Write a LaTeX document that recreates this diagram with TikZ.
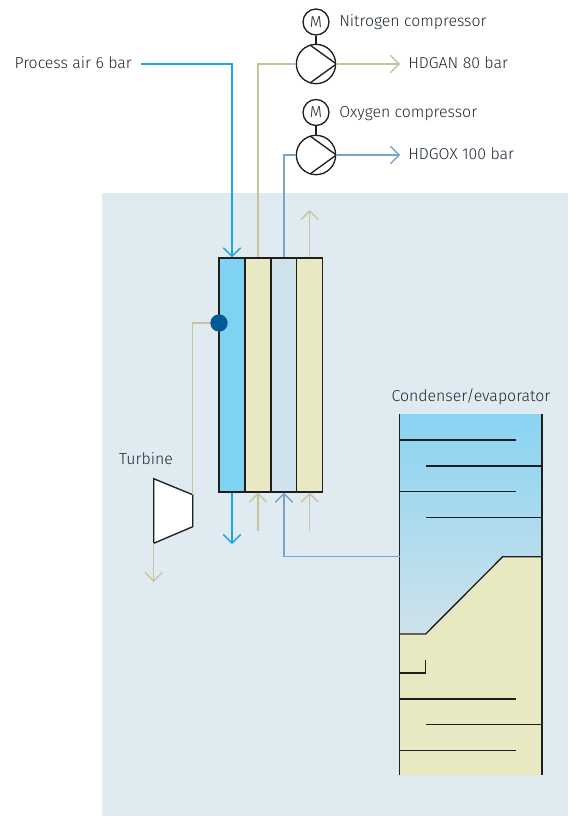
\documentclass[tikz,border=0pt]{standalone}
\usepackage{fontspec}
\setmainfont{Fira Sans Light}
\usepackage{xcolor}
\usetikzlibrary{arrows.meta,positioning,calc}
\definecolor{panelb}{HTML}{E0EAF1}
\definecolor{airb}{HTML}{1AA7E0}
\definecolor{airf}{HTML}{80D2F2}
\definecolor{ganl}{HTML}{C8C39A}
\definecolor{ganf}{HTML}{E8E8C2}
\definecolor{goxl}{HTML}{7BA4CC}
\definecolor{goxf}{HTML}{D0E2EB}
\definecolor{dotb}{HTML}{005A96}
\definecolor{inkk}{HTML}{1E1E1E}
\definecolor{textk}{HTML}{1E2833}
\tikzset{
  lbl/.style={inner sep=0pt, font=\fontsize{11.9}{13}\selectfont, text=textk, text height=8pt, text depth=2.5pt},
  column/.style={draw=inkk, line width=1pt, minimum width=19.5pt, minimum height=175.5pt, inner sep=0pt},
  pumpc/.style={draw=inkk, circle, line width=1pt, fill=white, minimum size=29.5pt, inner sep=0pt},
  motorc/.style={draw=inkk, circle, line width=1pt, minimum size=19.5pt, inner sep=0pt, font=\fontsize{11.9}{13}\selectfont, text=textk},
  flow/.style={line width=1pt, -{Straight Barb[length=6.5pt,width=13pt]}},
  plain/.style={line width=1pt},
  tray/.style={draw=inkk, line width=1pt}
}
\begin{document}
\begin{tikzpicture}[x=0.75pt, y=-0.75pt]
  \useasboundingbox (0,0) rectangle (580,832);
  \fill[panelb] (102,193) rectangle (568,816);
  % exchanger
  \node[column, fill=airf] (colA) at (232,375) {};
  \node[column, fill=ganf] (colB) at (258,375) {};
  \node[column, fill=goxf] (colC) at (284,375) {};
  \node[column, fill=ganf] (colD) at (309.7,375) {};
  \node[circle, fill=dotb, minimum size=13pt, inner sep=0pt] (dot) at (219,323) {};
  % compressors
  \node[motorc] (motorN) at (316,22) {M};
  \node[pumpc] (pumpN) at (316,64) {};
  \node[motorc] (motorO) at (316,112.5) {M};
  \node[pumpc] (pumpO) at (316,155) {};
  \draw[plain, inkk] (motorN) -- (pumpN);
  \draw[plain, inkk] (motorO) -- (pumpO);
  \draw[plain, inkk] (310,45) -- (pumpN.east) -- (310,83);
  \draw[plain, inkk] (310,136) -- (pumpO.east) -- (310,174);
  % labels
  \node[lbl, anchor=west] (tN) at (339,22.5) {Nitrogen compressor};
  \node[lbl, anchor=west] (tO) at (339,113.5) {Oxygen compressor};
  \node[lbl, anchor=east] (tair) at (132,65) {Process air 6 bar};
  \node[lbl, anchor=west] (tgan) at (408,65) {HDGAN 80 bar};
  \node[lbl, anchor=west] (tgox) at (408,155.5) {HDGOX 100 bar};
  \node[lbl] (tturb) at (146,460.5) {Turbine};
  \node[lbl] (tcond) at (471,397.5) {Condenser/evaporator};
  % turbine
  \coordinate (tbin) at (192.7,494.7);
  \coordinate (tbout) at (153.7,543.3);
  \draw[inkk, line width=1pt, fill=white] (153.7,478.7) -- (tbin) -- (192.7,526.7) -- (tbout) -- cycle;
  % condenser
  \shade[top color=airf!90!goxf, bottom color=goxf] (399.5,414) rectangle (542,634);
  \fill[ganf] (399.5,634) -- (425.7,634) -- (502.7,556.7) -- (542,556.7) -- (542,775) -- (399.5,775) -- cycle;
  \draw[tray] (399.5,414) -- (399.5,775);
  \draw[tray] (542,414) -- (542,775);
  \draw[tray] (399.5,440) -- (516,440);
  \draw[tray] (426,466) -- (542,466);
  \draw[tray] (399.5,491.7) -- (516,491.7);
  \draw[tray] (426,517.3) -- (542,517.3);
  \draw[tray] (399.5,634) -- (425.7,634) -- (502.7,556.7) -- (542,556.7);
  \draw[tray] (399.5,673) -- (425.7,673) -- (425.7,660);
  \draw[tray] (399.5,699) -- (516,699);
  \draw[tray] (426,724.7) -- (542,724.7);
  \draw[tray] (399.5,750.3) -- (516,750.3);
  % free ends
  \coordinate (airin) at (141,64);
  \coordinate (ganend) at (400,64);
  \coordinate (goxend) at (400,155);
  \coordinate (condin) at (399.5,556.7);
  \coordinate (airout) at (232,544);
  \coordinate (turbout) at (153.7,582);
  \coordinate (colBin) at (258,531);
  \coordinate (colDin) at (309.7,531);
  \coordinate (colDout) at (309.7,210);
  % streams
  \draw[flow, airb] (airin) -| (colA.north);
  \draw[flow, airb] (colA.south) -- (airout);
  \draw[plain, ganl] (colB.north) |- (pumpN.west);
  \draw[flow, ganl] (pumpN.east) -- (ganend);
  \draw[plain, goxl] (colC.north) |- (pumpO.west);
  \draw[flow, goxl] (pumpO.east) -- (goxend);
  \draw[flow, ganl] (colD.north) -- (colDout);
  \draw[flow, ganl] (colBin) -- (colB.south);
  \draw[flow, ganl] (colDin) -- (colD.south);
  \draw[flow, goxl] (condin) -| (colC.south);
  \draw[plain, ganl] (dot.west) -| (tbin);
  \draw[flow, ganl] (tbout) -- (turbout);
\end{tikzpicture}
\end{document}
